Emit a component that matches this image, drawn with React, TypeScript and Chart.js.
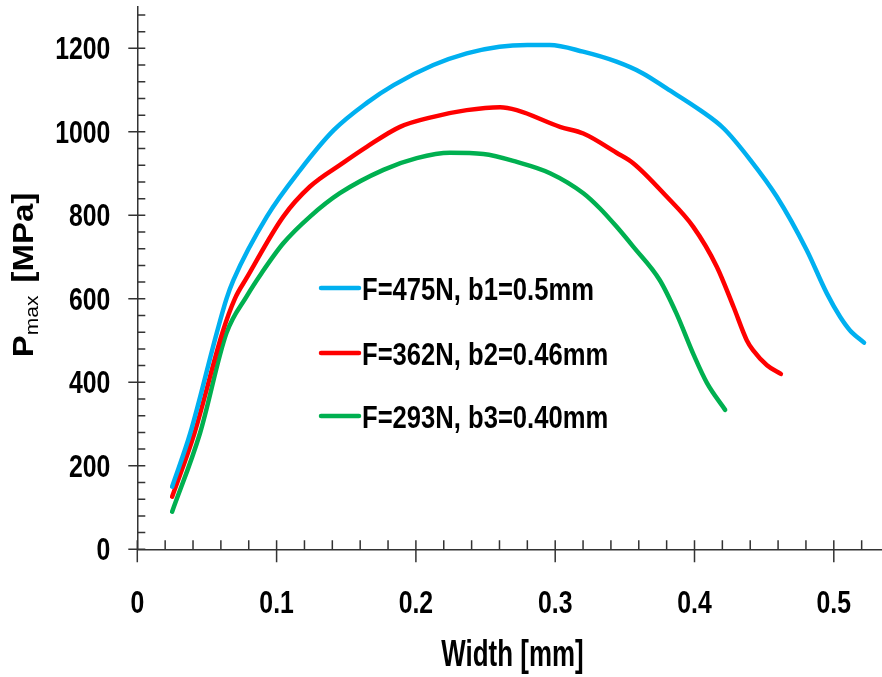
import React, { useEffect, useRef } from 'react';
import { Chart, registerables } from 'chart.js';

Chart.register(...registerables);

// ---- Data ----
const seriesLabels = ['F=475N, b1=0.5mm', 'F=362N, b2=0.46mm', 'F=293N, b3=0.40mm'];
const seriesColors = ['#00B0F0', '#FF0000', '#00B050'];

const blueX = [0.025, 0.038, 0.057, 0.064, 0.069, 0.093, 0.117, 0.141, 0.165, 0.184, 0.2125, 0.2365, 0.26, 0.28, 0.296, 0.32, 0.344, 0.363, 0.38, 0.404, 0.421, 0.44, 0.459, 0.4805, 0.495, 0.5045, 0.5115, 0.5217];
const blueY = [150, 278, 518, 600, 645, 797, 909, 1004, 1070, 1112, 1160, 1188, 1204, 1208, 1208, 1192, 1168, 1140, 1104, 1052, 1008, 933, 845, 717, 613, 557, 525, 495];

const redX = [0.025, 0.041, 0.061, 0.07, 0.0785, 0.1048, 0.124, 0.1474, 0.1647, 0.1886, 0.2125, 0.2365, 0.2604, 0.2724, 0.3034, 0.3202, 0.344, 0.356, 0.38, 0.399, 0.416, 0.428, 0.4375, 0.442, 0.452, 0.462];
const redY = [126, 278, 518, 600, 650, 797, 869, 925, 964, 1012, 1036, 1052, 1059, 1052, 1012, 996, 950, 925, 845, 773, 677, 581, 501, 477, 441, 420];

const greenX = [0.025, 0.045, 0.064, 0.0785, 0.0893, 0.1048, 0.124, 0.1454, 0.1767, 0.2006, 0.2245, 0.2484, 0.2724, 0.2963, 0.3202, 0.332, 0.344, 0.356, 0.375, 0.387, 0.3995, 0.409, 0.422];
const greenY = [90, 278, 518, 606, 662, 733, 797, 853, 909, 937, 950, 947, 928, 901, 853, 817, 773, 725, 645, 565, 465, 398, 334];

const xTickLabels = [0, 0.1, 0.2, 0.3, 0.4, 0.5];
const yTickLabels = [0, 200, 400, 600, 800, 1000, 1200];
const xMinorStep = 0.02;
const yMinorStep = 40;
const xTitle = 'Width [mm]';
const yTitleMain = 'P';
const yTitleSub = 'max';
const yTitleUnit = '[MPa]';

const SANS = '"Liberation Sans", Arial, sans-serif';

function squeezedText(ctx: any, text: string, x: number, y: number, font: string, sx: number, align: string) {
  ctx.save();
  ctx.font = font;
  ctx.textAlign = align;
  ctx.textBaseline = 'alphabetic';
  ctx.translate(x, y);
  ctx.scale(sx, 1);
  ctx.fillText(text, 0, 0);
  ctx.restore();
}

const axisPlugin = {
  id: 'axisTicks',
  afterDraw(chart: any) {
    const { ctx, chartArea } = chart;
    const xs = chart.scales.x;
    const ys = chart.scales.y;
    ctx.save();
    ctx.strokeStyle = '#333';
    ctx.lineWidth = 1.5;
    ctx.beginPath();
    for (let i = 0; i * yMinorStep <= ys.max; i++) {
      const v = i * yMinorStep;
      const major = yTickLabels.some((t) => Math.abs(t - v) < 1e-6);
      const py = ys.getPixelForValue(v);
      ctx.moveTo(chartArea.left - (major ? 9 : 0), py);
      ctx.lineTo(chartArea.left + 8, py);
    }
    for (let i = 0; i * xMinorStep <= xs.max + 1e-9; i++) {
      const v = i * xMinorStep;
      const major = xTickLabels.some((t) => Math.abs(t - v) < 1e-6);
      const px = xs.getPixelForValue(v);
      ctx.moveTo(px, chartArea.bottom - 9);
      ctx.lineTo(px, chartArea.bottom + (major ? 13 : 0));
    }
    ctx.stroke();
    ctx.restore();

    // tick labels
    ctx.save();
    ctx.fillStyle = '#000';
    const tickFont = `bold 31px ${SANS}`;
    yTickLabels.forEach((v) => {
      const py = ys.getPixelForValue(v);
      squeezedText(ctx, String(v), chartArea.left - 27, py + 11, tickFont, 0.8, 'right');
    });
    xTickLabels.forEach((v) => {
      const px = xs.getPixelForValue(v);
      squeezedText(ctx, String(v), px, chartArea.bottom + 64, tickFont, 0.8, 'center');
    });
    // x title
    squeezedText(ctx, xTitle, 512.5, 666, `bold 36px ${SANS}`, 0.72, 'center');
    ctx.restore();
  },
};

const legendPlugin = {
  id: 'innerLegend',
  afterDraw(chart: any) {
    const { ctx } = chart;
    const rows = [288, 353, 416];
    ctx.save();
    chart.data.datasets.forEach((ds: any, i: number) => {
      const y = rows[i];
      ctx.strokeStyle = ds.borderColor;
      ctx.lineWidth = 4.5;
      ctx.lineCap = 'round';
      ctx.beginPath();
      ctx.moveTo(321, y);
      ctx.lineTo(359, y);
      ctx.stroke();
      ctx.fillStyle = '#000';
      squeezedText(ctx, ds.label, 362, y + 11.5, `bold 32px ${SANS}`, 0.8, 'left');
    });
    ctx.restore();
  },
};

const yTitlePlugin = {
  id: 'yTitle',
  afterDraw(chart: any) {
    const { ctx } = chart;
    ctx.save();
    ctx.translate(33, 275);
    ctx.rotate(-Math.PI / 2);
    ctx.scale(1, 0.87);
    const big = `bold 33px ${SANS}`;
    const small = `21px ${SANS}`;
    ctx.font = big;
    const wP = ctx.measureText(yTitleMain).width;
    const wU = ctx.measureText(yTitleUnit).width;
    ctx.font = small;
    const wS = ctx.measureText(yTitleSub).width;
    const gap = 13;
    const total = wP + wS + gap + wU;
    const x0 = -total / 2;
    ctx.fillStyle = '#000';
    ctx.textAlign = 'left';
    ctx.textBaseline = 'alphabetic';
    ctx.font = big;
    ctx.fillText(yTitleMain, x0, 0);
    ctx.font = small;
    ctx.fillText(yTitleSub, x0 + wP, 6);
    ctx.font = big;
    ctx.fillText(yTitleUnit, x0 + wP + wS + gap, 0);
    ctx.restore();
  },
};

function pts(xs: number[], ys: number[]) {
  return xs.map((x, i) => ({ x, y: ys[i] }));
}

export default function App() {
  const ref = useRef<HTMLCanvasElement>(null);
  useEffect(() => {
    if (!ref.current) return;
    const series = [pts(blueX, blueY), pts(redX, redY), pts(greenX, greenY)];
    const chart = new Chart(ref.current, {
      type: 'line',
      data: {
        datasets: series.map((d, i) => ({
          label: seriesLabels[i],
          data: d,
          borderColor: seriesColors[i],
          backgroundColor: seriesColors[i],
          borderWidth: 4.5,
          pointRadius: 0,
          cubicInterpolationMode: 'monotone' as const,
          borderCapStyle: 'round' as const,
          borderJoinStyle: 'round' as const,
          fill: false,
        })),
      },
      options: {
        responsive: false,
        animation: false,
        layout: { padding: { top: 6.6, left: 0, right: 0, bottom: 0 } },
        plugins: { legend: { display: false }, tooltip: { enabled: false } },
        scales: {
          x: {
            type: 'linear',
            min: 0,
            max: 0.5346,
            afterBuildTicks: (s: any) => {
              s.ticks = xTickLabels.map((v) => ({ value: v }));
            },
            afterFit: (s: any) => {
              s.height = 127.7;
              s.paddingLeft = 0;
              s.paddingRight = 0;
            },
            ticks: { display: false },
            grid: { display: false, drawTicks: false, tickLength: 0 },
            border: { display: true, color: '#333', width: 1.5 },
          },
          y: {
            type: 'linear',
            min: 0,
            max: 1300,
            afterBuildTicks: (s: any) => {
              s.ticks = yTickLabels.map((v) => ({ value: v }));
            },
            afterFit: (s: any) => {
              s.width = 137.3;
              s.paddingTop = 0;
              s.paddingBottom = 0;
            },
            ticks: { display: false },
            grid: { display: false, drawTicks: false, tickLength: 0 },
            border: { display: true, color: '#333', width: 1.5 },
          },
        },
      },
      plugins: [axisPlugin, legendPlugin, yTitlePlugin],
    });
    return () => chart.destroy();
  }, []);

  return (
    <div style={{ position: 'fixed', left: 0, top: 0, width: 882, height: 677, background: '#fff' }}>
      <canvas ref={ref} width={882} height={677} style={{ display: 'block' }} />
    </div>
  );
}
